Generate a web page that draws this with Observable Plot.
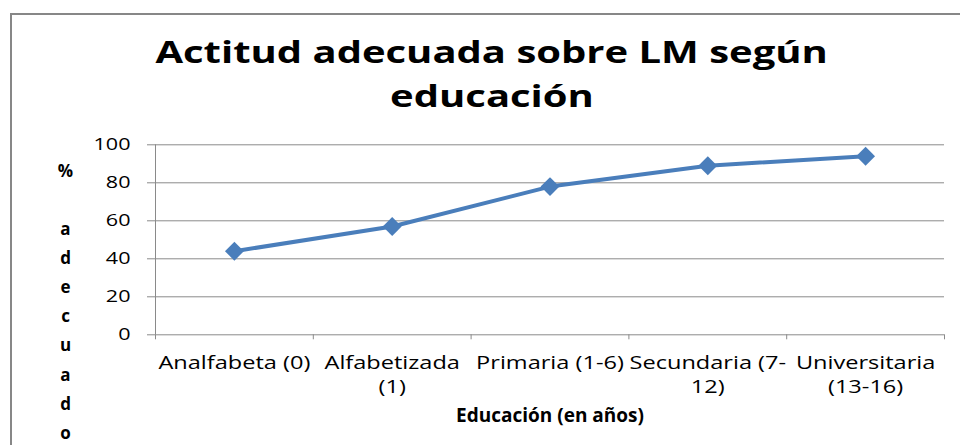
<!DOCTYPE html>
<html><head><meta charset="utf-8">
<script src="https://cdn.jsdelivr.net/npm/d3@7"></script>
<script src="https://cdn.jsdelivr.net/npm/@observablehq/plot@0.6"></script>
<style>
body{margin:0;background:#fff;overflow:hidden;font-family:"Open Sans",sans-serif}
#wrap{position:relative;width:960px;height:445px;overflow:hidden}
#border{position:absolute;left:10px;top:13px;width:1100px;height:1000px;border:2px solid #878787;box-sizing:border-box}
#title{position:relative;height:125px}
.tl{position:absolute;left:0;width:984px;text-align:center;font-weight:700;font-size:31px;line-height:31px;white-space:nowrap;color:#000}
.tl span{display:inline-block;transform-origin:50% 50%}
#chart{position:relative;height:320px}
</style></head>
<body>
<div id="wrap">
<div id="border"></div>
<div id="title"></div>
<div id="chart"></div>
</div>
<script>
const titleLines = ["Actitud adecuada sobre LM según", "educación"];
const categories = ["Analfabeta (0)", "Alfabetizada\n(1)", "Primaria (1-6)", "Secundaria (7-\n12)", "Universitaria\n(13-16)"];
const values = [44, 57, 78, 89, 94];
const yTicks = [0, 20, 40, 60, 80, 100];
const xLabel = "Educación (en años)";
const yLabel = "%\n\na\nd\ne\nc\nu\na\nd\no";

// title
const titleDiv = document.getElementById("title");
const tops = [35.5, 79.5];
const spans = titleLines.map((t, i) => {
  const d = document.createElement("div");
  d.className = "tl";
  d.style.top = tops[i] + "px";
  const s = document.createElement("span");
  s.textContent = t;
  d.appendChild(s);
  titleDiv.appendChild(d);
  return s;
});
const tsx = 672 / spans[0].offsetWidth;
spans.forEach(s => s.style.transform = `scaleX(${tsx})`);

const rows = categories.map((c, i) => ({pos: i + 0.5, cat: c, value: values[i]}));
const bounds = d3.range(categories.length + 1);
const gray = "#8a8a8a";
const blue = "#4a7ebb";

const svg = Plot.plot({
  width: 960, height: 320,
  marginLeft: 155, marginRight: 16, marginTop: 19.3, marginBottom: 110.7,
  style: {fontFamily: '"Open Sans", sans-serif', color: "#000", background: "transparent"},
  x: {type: "linear", domain: [0, categories.length]},
  y: {domain: [0, 100]},
  marks: [
    Plot.gridY(yTicks, {stroke: gray, strokeOpacity: 1}),
    Plot.ruleX([0], {stroke: gray}),
    Plot.axisY(yTicks, {tickSize: 8, tickPadding: 17, stroke: gray, fill: "#000", fontSize: 17, label: null}),
    Plot.ruleX(bounds, {x: d => d, y1: 0, y2: 0, insetBottom: -5, stroke: gray}),
    Plot.axisX(rows.map(d => d.pos), {tickSize: 0, tickPadding: 17, tickFormat: p => categories[Math.floor(p)], fontSize: 18, lineHeight: 24 / 18, fill: "#000", label: null}),
    Plot.line(rows, {x: "pos", y: "value", stroke: blue, strokeWidth: 4}),
    Plot.dot(rows, {x: "pos", y: "value", symbol: "diamond2", r: 8.5, fill: blue, stroke: null}),
    Plot.text([xLabel], {text: d => d, frameAnchor: "bottom", dy: 80.7, lineAnchor: "middle", fontWeight: "bold", fontSize: 19, fill: "#000", ariaLabel: "x-label"}),
    Plot.text([yLabel], {text: d => d, frameAnchor: "left", dx: -90, dy: 58.7, lineAnchor: "middle", textAnchor: "middle", lineHeight: 29.1 / 17, fontWeight: "bold", fontSize: 17, fill: "#000", ariaLabel: "y-label"})
  ]
});
document.getElementById("chart").append(svg);

function scaleGroup(texts, sx) {
  texts.forEach(el => el.setAttribute("transform", (el.getAttribute("transform") || "") + ` scale(${sx},1)`));
}
const xt = [...svg.querySelectorAll('g[aria-label="x-axis tick label"] text')];
if (xt.length) {
  const w = xt.find(t => t.textContent.startsWith("Analfabeta")).getBBox().width;
  scaleGroup(xt, 152 / w);
}
const yt = [...svg.querySelectorAll('g[aria-label="y-axis tick label"] text')];
if (yt.length) {
  const t100 = yt.find(t => t.textContent === "100");
  scaleGroup(yt, 37 / t100.getBBox().width);
}
const xl = [...svg.querySelectorAll('g[aria-label="x-label"] text')];
if (xl.length) scaleGroup(xl, 218 / xl[0].getBBox().width);
</script>
</body></html>
